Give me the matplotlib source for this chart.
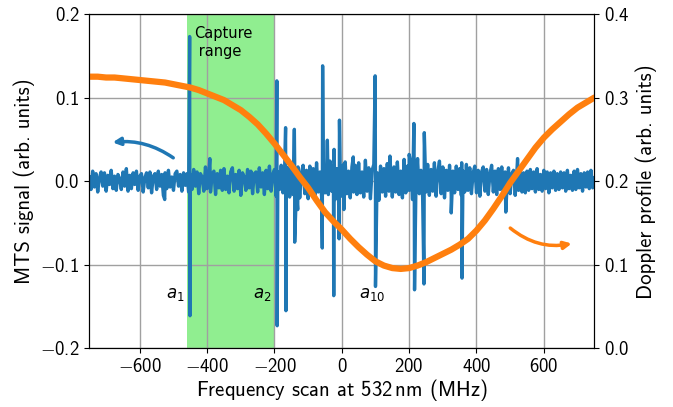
import numpy as np
import matplotlib
matplotlib.use("Agg")
import matplotlib.pyplot as plt
from matplotlib.patches import FancyArrowPatch
from matplotlib.ticker import FuncFormatter

plt.rcParams['font.family'] = 'cmss10'
plt.rcParams['mathtext.fontset'] = 'custom'
plt.rcParams['mathtext.rm'] = 'cmss10'
plt.rcParams['mathtext.sf'] = 'cmss10'
plt.rcParams['mathtext.it'] = 'cmss10'
plt.rcParams['mathtext.fallback'] = 'cm'

# baseline of the MTS signal, every 5 MHz from -750 to 750 (units of 1e-3)
noise_freq = np.arange(-750, 751, 5)
noise_milli = [
    5, -10, 12, -7, 9, -13, 4, 11, -6, 10, -12, 7, -4, 13, -9, 6, -11, 8, 3, -10,
    11, -6, 15, -12, 7, -9, 10, -4, 12, -11, 6, 9, -13, 4, 10, -8, 11, -14, 6, 9,
    -10, 12, -6, 8, -17, 10, -9, 13, -7, 5, -11, 9, 12, -6, 8, -12, 10, -5, 9, -13,
    8, -10, 14, -6, 11, -15, 9, 5, -12, 17, -9, 10, -13, 8, 12, -16, 9, -8, 13, -11,
    15, -10, 6, -14, 11, 16, -12, 8, -9, 13, -17, 10, 5, -11, 14, -8, 12, -15, 9, 11,
    -13, 16, -7, 10, -16, 13, -9, 18, -12, 8, 14, -18, 11, -10, 19, -14, 12, -11, 16, -19,
    13, -16, 21, -12, 17, -20, 10, 19, -15, 13, -21, 18, -10, 15, -17, 22, -13, 11, -19, 16,
    -14, 20, -16, 24, -12, 18, -22, 15, -11, 21, -18, 13, 23, -15, 12, -20, 17, -13, 19, -16,
    22, -14, 11, -19, 25, -12, 16, -21, 13, 20, -17, 10, -23, 18, -13, 15, -18, 21, -12, 14,
    -19, 17, -13, 23, -16, 12, -20, 26, -14, 18, -11, 21, -22, 15, -10, 27, -15, 13, -19, 16,
    -13, 20, -17, 14, -12, 22, -18, 11, 24, -15, 17, -20, 13, -11, 19, -16, 12, -14, 18, -10,
    15, -17, 12, -13, 20, -11, 16, -15, 10, 18, -14, 13, -18, 11, 17, -12, 14, -16, 9, 19,
    -13, 12, -16, 15, -10, 17, -14, 11, -12, 16, -15, 9, 13, -17, 12, -11, 15, -13, 10, -14,
    12, -11, 14, -9, 11, -13, 15, -10, 8, -12, 13, -9, 11, -14, 10, -8, 12, -11, 9, -10,
    11, -8, 10, -12, 13, -9, 7, -11, 12, -10, 14, -8, 9, -12, 10, -7, 11, -9, 13, -8,
    4,
]

# hyperfine lines: positive and negative excursions
up_freq = [-452, -392, -193, -167, -141, -57, -43, -23, -7, 5, 34, 99, 143, 200, 214, 245, 356, 522]
up_val = [0.173, 0.027, 0.120, 0.064, 0.062, 0.138, 0.049, 0.038, 0.073, 0.020,
          0.029, 0.126, 0.030, 0.032, 0.069, 0.058, 0.022, 0.027]
dn_freq = [-526, -451, -192, -166, -140, -131, -58, -24, -8, 6, 100, 216, 244, 325, 357, 487]
dn_val = [-0.022, -0.161, -0.173, -0.155, -0.073, -0.034, -0.080, -0.137, -0.069,
          -0.034, -0.126, -0.130, -0.123, -0.038, -0.116, -0.037]

# Doppler background (right axis), every 25 MHz
dop_freq = np.arange(-750, 751, 25)
dop_val = [0.325, 0.325, 0.324, 0.324, 0.323, 0.322, 0.321, 0.320, 0.319, 0.318,
           0.316, 0.314, 0.312, 0.309, 0.305, 0.301, 0.297, 0.291, 0.285, 0.277,
           0.268, 0.257, 0.245, 0.232, 0.219, 0.205, 0.192, 0.177, 0.163, 0.152,
           0.142, 0.131, 0.121, 0.112, 0.104, 0.099, 0.096, 0.095, 0.096, 0.099,
           0.103, 0.108, 0.113, 0.118, 0.124, 0.131, 0.141, 0.153, 0.167, 0.182,
           0.198, 0.212, 0.226, 0.240, 0.252, 0.262, 0.271, 0.280, 0.288, 0.294,
           0.300]

capture = (-460, -200)
line_labels = ['$a_1$', '$a_2$', '$a_{10}$']
line_label_x = [-496, -237, 89]

freq = np.concatenate([noise_freq, up_freq, dn_freq])
mts = np.concatenate([np.array(noise_milli) / 1000.0, up_val, dn_val])
order = np.argsort(freq, kind='stable')
freq, mts = freq[order], mts[order]


def sans_tick(fmt):
    def f(v, pos):
        s = fmt.format(abs(v))
        sign = '-' if v < -1e-9 else ''
        return '$' + sign + s + '$'
    return FuncFormatter(f)


fig = plt.figure(figsize=(6.73, 4.07), dpi=100)
ax1 = fig.add_axes([0.1327, 0.1442, 0.7504, 0.8214])
ax2 = ax1.twinx()

ax1.axvspan(*capture, color='#90ee90', lw=0, zorder=1)
ax1.plot(freq, mts, color='#1f77b4', lw=2.4, zorder=2)
ax1.grid(True, color='#a0a0a0', lw=1.0)
ax1.set_xlim(-750, 750)
ax1.set_ylim(-0.2, 0.2)
ax1.set_yticks([-0.2, -0.1, 0.0, 0.1, 0.2])
ax1.set_xticks([-600, -400, -200, 0, 200, 400, 600])
ax1.xaxis.set_major_formatter(sans_tick('{:.0f}'))
ax1.yaxis.set_major_formatter(sans_tick('{:.1f}'))
ax1.set_xlabel(r'Frequency scan at 532$\,$nm (MHz)', fontsize=15, labelpad=1)
ax1.set_ylabel('MTS signal (arb. units)', fontsize=15)
ax1.tick_params(labelsize=13.5)

ax2.plot(dop_freq, dop_val, color='#ff7f0e', lw=4.5, solid_capstyle='round')
ax2.set_ylim(0.0, 0.4)
ax2.set_yticks([0.0, 0.1, 0.2, 0.3, 0.4])
ax2.yaxis.set_major_formatter(sans_tick('{:.1f}'))
ax2.set_ylabel('Doppler profile (arb. units)', fontsize=15)
ax2.tick_params(labelsize=13.5)

ax1.text(-438, 0.166, 'Capture\n range', fontsize=10.5, family='DejaVu Sans',
         ha='left', va='center', linespacing=1.3)
for lab, x in zip(line_labels, line_label_x):
    ax1.text(x, -0.136, lab, fontsize=12, ha='center', va='center',
             math_fontfamily='dejavusans')

ax1.add_patch(FancyArrowPatch((-494, 0.026), (-689, 0.046),
                              connectionstyle='arc3,rad=0.2', arrowstyle='-|>',
                              mutation_scale=11, lw=2.5, color='#1f77b4', zorder=5))
ax1.add_patch(FancyArrowPatch((494, -0.054), (691, -0.074),
                              connectionstyle='arc3,rad=0.25', arrowstyle='-|>',
                              mutation_scale=11, lw=2.5, color='#ff7f0e', zorder=5))

fig.savefig('out.png', dpi=100)
